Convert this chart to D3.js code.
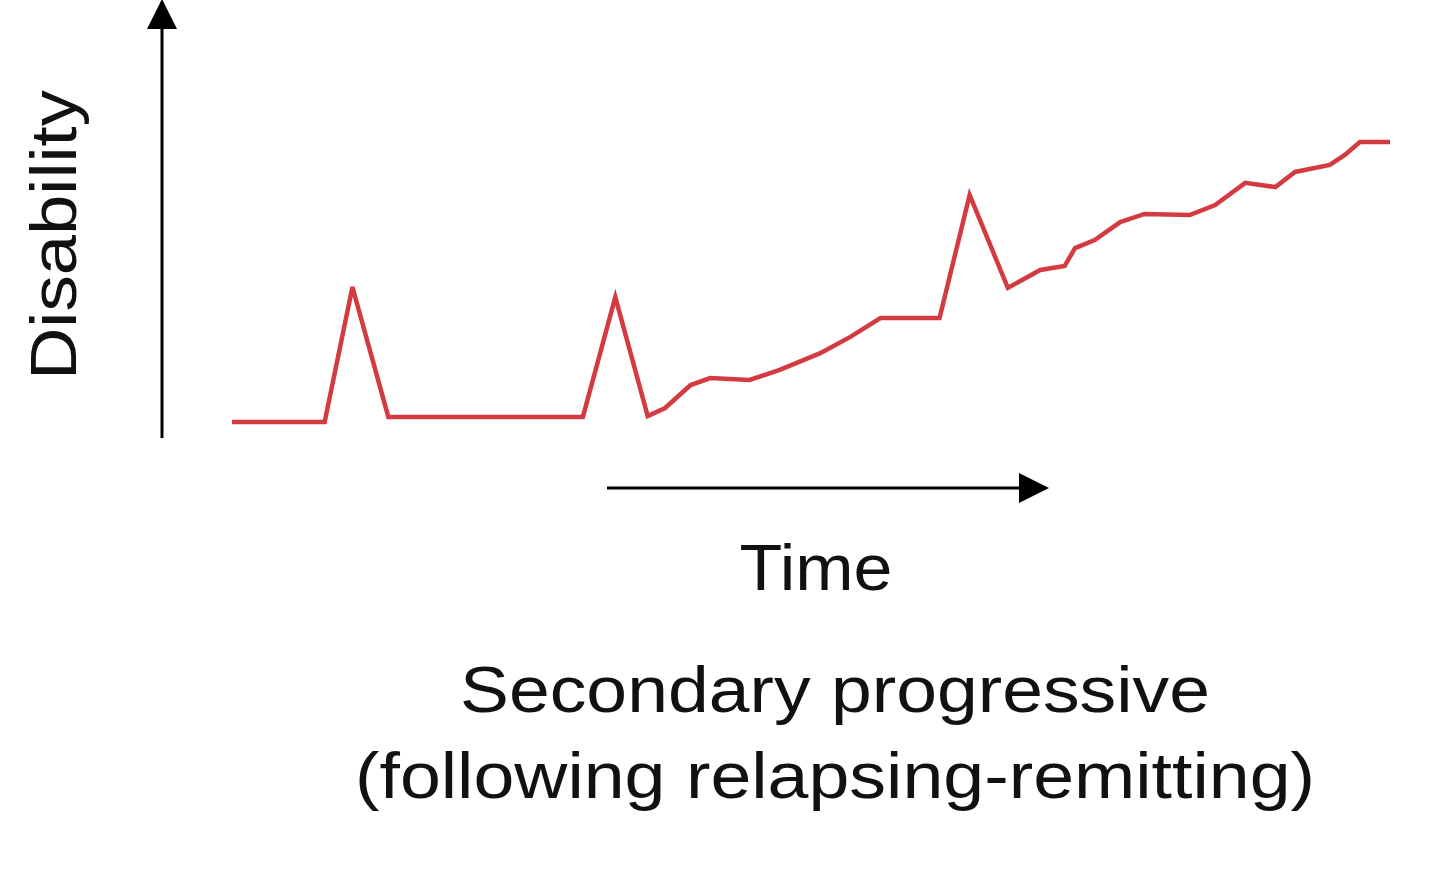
<!DOCTYPE html>
<html><head><meta charset="utf-8">
<script src="https://cdn.jsdelivr.net/npm/d3@7"></script>
<style>body{margin:0;background:#fff}</style>
</head><body>
<svg width="1440" height="878"></svg>
<script>
// course of disability over time (arbitrary units)
var timeVals = [0,8.0,10.4,13.5,30.3,33.1,35.9,37.4,39.6,41.3,44.7,47.3,50.8,53.4,56.0,61.1,63.7,67.0,69.8,71.9,72.8,74.5,76.7,78.8,82.7,84.9,87.5,90.1,91.8,94.8,96.1,97.4,100];
var disabilityVals = [0,0,48.2,1.8,1.8,44.6,2.1,5,13.2,15.7,15,18.6,24.6,30.4,37.1,37.1,81.1,47.9,54.3,55.7,62.1,65,71.4,74.3,73.9,77.5,85.4,83.9,89.3,91.8,95.4,100,100];
var titleLines = ['Secondary progressive', '(following relapsing-remitting)'];
var titleWidths = [750, 960];

var svg = d3.select('svg');
var x = d3.scaleLinear().domain([0, 100]).range([232, 1390]);
var y = d3.scaleLinear().domain([0, 100]).range([422, 142]);

var defs = svg.append('defs');
defs.append('marker').attr('id', 'arr').attr('viewBox', '0 0 10 10')
  .attr('refX', 9).attr('refY', 5)
  .attr('markerUnits', 'userSpaceOnUse').attr('orient', 'auto')
  .attr('markerWidth', 30).attr('markerHeight', 30)
  .append('path').attr('d', 'M0,0L10,5L0,10Z').attr('fill', '#000');

svg.append('line').attr('x1', 162).attr('y1', 438).attr('x2', 162).attr('y2', 2)
  .attr('stroke', '#000').attr('stroke-width', 3).attr('marker-end', 'url(#arr)');
svg.append('line').attr('x1', 607).attr('y1', 488).attr('x2', 1046).attr('y2', 488)
  .attr('stroke', '#000').attr('stroke-width', 3).attr('marker-end', 'url(#arr)');

var pts = timeVals.map(function (t, i) { return [t, disabilityVals[i]]; });
svg.append('path').datum(pts)
  .attr('d', d3.line().x(function (d) { return x(d[0]); }).y(function (d) { return y(d[1]); }))
  .attr('fill', 'none').attr('stroke', '#d43b40').attr('stroke-width', 4.5)
  .attr('stroke-linejoin', 'miter');

var font = 'Liberation Sans, Arial, sans-serif';
svg.append('text').attr('transform', 'translate(76,235) rotate(-90)')
  .attr('text-anchor', 'middle').attr('font-family', font).attr('font-size', 64)
  .attr('textLength', 290).attr('lengthAdjust', 'spacingAndGlyphs')
  .attr('fill', '#111').text('Disability');
svg.append('text').attr('x', 816).attr('y', 590).attr('text-anchor', 'middle')
  .attr('font-family', font).attr('font-size', 64)
  .attr('textLength', 153).attr('lengthAdjust', 'spacingAndGlyphs')
  .attr('fill', '#111').text('Time');
titleLines.forEach(function (t, i) {
  svg.append('text').attr('x', 835).attr('y', 712 + i * 86).attr('text-anchor', 'middle')
    .attr('font-family', font).attr('font-size', 64)
    .attr('textLength', titleWidths[i]).attr('lengthAdjust', 'spacingAndGlyphs')
    .attr('fill', '#111').text(t);
});
</script>
</body></html>
